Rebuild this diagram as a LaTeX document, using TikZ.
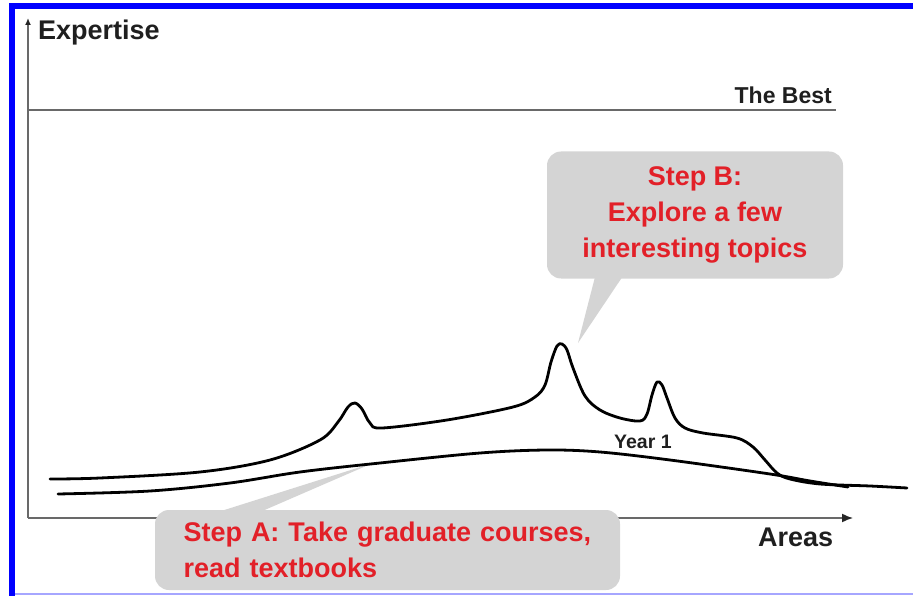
\documentclass[tikz,border=0pt]{standalone}
\usepackage{fontspec}
\setmainfont{Liberation Sans}
\usetikzlibrary{arrows.meta}
\definecolor{stepred}{RGB}{226,32,40}
\definecolor{bubblegray}{RGB}{212,212,212}
\definecolor{axisgray}{RGB}{105,105,105}
\definecolor{frameblue}{RGB}{0,0,255}
\tikzstyle{axisline}=[draw=axisgray, line width=1.5pt]
\tikzstyle{curve}=[line width=2.8pt, line join=round, line cap=round]
\tikzstyle{axistext}=[inner sep=0pt, text=black!88, font=\bfseries\fontsize{27}{30}\selectfont]
\tikzstyle{bubble}=[fill=bubblegray, rounded corners=14pt, inner sep=0pt, text=stepred, font=\bfseries\fontsize{27}{36}\selectfont]
\begin{document}
\begin{tikzpicture}[x=1pt, y=-1pt]
        \useasboundingbox (0,0) rectangle (913,596);
        \fill[frameblue] (9,3) rectangle (913,9);
        \fill[frameblue] (9,3) rectangle (15,596);
        \draw[frameblue!35, line width=2pt] (15,594) -- (913,594);
        \coordinate (O) at (28,518);
        \coordinate (ytop) at (28,18);
        \coordinate (xend) at (853,518);
        \coordinate (bestL) at (28,110);
        \coordinate (bestR) at (836,110);
        \draw[axisline, -{Latex[length=7pt, width=6pt, color=black!85]}] (O) -- (ytop);
        \draw[axisline, -{Latex[length=11pt, width=9pt, color=black!85]}] (O) -- (xend);
        \draw[axisline] (bestL) -- (bestR);
        \node[bubble, minimum width=296pt, minimum height=127pt, align=center] (stepB) at (695,215) {Step B:\\Explore a few\\interesting topics};
        \node[bubble, text width=408pt, inner xsep=28.5pt, minimum height=80pt, align=left] (stepA) at (387.5,550) {Step A: Take graduate courses,\\read textbooks};
        \coordinate (tipB) at (578,343);
        \coordinate (tipA) at (373,463);
        \fill[bubblegray] ([xshift=48pt, yshift=1pt]stepB.south west) -- (tipB) -- ([xshift=75pt, yshift=1pt]stepB.south west) -- cycle;
        \fill[bubblegray] ([xshift=67pt, yshift=-1pt]stepA.north west) -- (tipA) -- ([xshift=108pt, yshift=-1pt]stepA.north west) -- cycle;
        \draw[curve] plot[smooth, tension=0.55] coordinates {(58,494) (150,491) (230,483) (300,472) (380,463) (480,453) (547,450) (600,452) (670,460) (770,474) (810,481) (848,487)};
        \draw[curve] plot[smooth, tension=0.55] coordinates {(50,479) (100,478) (200,472) (270,460) (320,440) (338,422) (348,407) (355,403) (362,409) (370,423) (382,428) (447,420) (513,407) (535,397) (545,385) (551,362) (557,346) (562,344) (567,350) (573,368) (585,396) (600,410) (620,418) (640,421) (647,414) (652,395) (657,382) (662,385) (667,398) (675,418) (685,428) (703,433) (737,438) (753,447) (765,460) (777,473) (790,479) (820,484) (870,486) (907,488)};
        \node[axistext, anchor=base west] (expertise) at (38,40) {Expertise};
        \node[axistext, font=\bfseries\fontsize{23}{26}\selectfont, anchor=base east] (best) at (832,104) {The Best};
        \node[axistext, anchor=base west] (areas) at (758,546) {Areas};
        \node[axistext, font=\bfseries\fontsize{19.5}{22}\selectfont, anchor=base west] (year) at (614,448) {Year 1};
    \end{tikzpicture}
\end{document}
